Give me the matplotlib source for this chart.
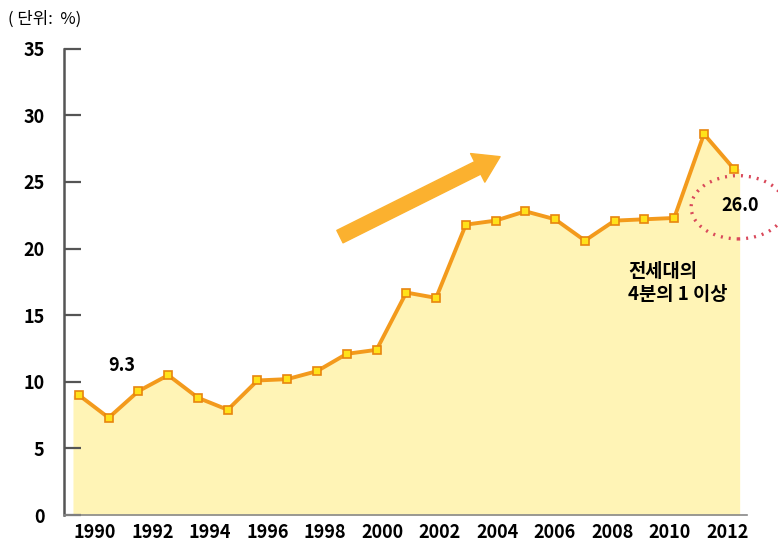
import matplotlib
matplotlib.use("Agg")
import matplotlib.pyplot as plt
from matplotlib.patches import Ellipse

plt.rcParams['font.family'] = ['Noto Sans CJK KR', 'DejaVu Sans']

years = list(range(1990, 2013))
values = [9.0, 7.3, 9.3, 10.5, 8.8, 7.9, 10.1, 10.2, 10.8, 12.1, 12.4, 16.7,
          16.3, 21.8, 22.1, 22.8, 22.2, 20.6, 22.1, 22.2, 22.3, 28.6, 26.0]
tick_labels = ['1990', '1992', '1994', '1996', '1998', '2000',
               '2002', '2004', '2006', '2008', '2010', '2012']
y_ticks = [0, 5, 10, 15, 20, 25, 30, 35]

line_col = '#F39A1C'
fill_col = '#FFF4B6'

fig = plt.figure(figsize=(7.78, 5.44), dpi=100)
ax = fig.add_axes([0.0823, 0.0533, 0.878, 0.857])

# area, a little wider than the first and last point
fx = [years[0] - 0.2] + years + [years[-1] + 0.2]
fy = [values[0]] + values + [values[-1]]
ax.fill_between(fx, fy, 0, color=fill_col, lw=0, zorder=1)
ax.plot(years, values, color=line_col, lw=2.8, marker='s', ms=6,
        mfc='#FFE21A', mec='#E8850F', mew=1.2, zorder=3)

ax.set_xlim(1989.5, 2012.45)
ax.set_ylim(0, 35)

# the printed year labels don't line up exactly with the points
tick_pos = [1990.54 + i * 1.931 for i in range(len(tick_labels))]
ax.set_xticks(tick_pos)
ax.set_xticklabels(tick_labels)
ax.set_yticks(y_ticks)
ax.tick_params(axis='x', length=0, pad=6, labelsize=13)
ax.tick_params(axis='y', direction='in', length=12.5, width=1.6, color='#555555',
               pad=14, labelsize=13)
for lab in ax.get_xticklabels() + ax.get_yticklabels():
    lab.set_fontweight('bold')

for s in ['top', 'right']:
    ax.spines[s].set_visible(False)
ax.spines['left'].set_color('#555555')
ax.spines['left'].set_linewidth(1.8)
ax.spines['bottom'].set_color('#888888')
ax.spines['bottom'].set_linewidth(1.2)

fig.text(0.01, 0.965, '( 단위:  %)', fontsize=12, ha='left', va='center')

ax.text(1991.45, 11.2, '9.3', fontsize=13, fontweight='bold', ha='center', va='center')
ax.text(2012.2, 23.2, '26.0', fontsize=13, fontweight='bold', ha='center', va='center')
ax.text(2008.45, 19.0, '전세대의\n4분의 1 이상', fontsize=13.5, fontweight='bold',
        ha='left', va='top', linespacing=1.25)

ell = Ellipse((2012.15, 23.1), 3.16, 4.75, fill=False, ec='#D9485A', lw=2.4,
              ls=(0, (0.6, 1.8)), clip_on=False, zorder=4)
ax.add_patch(ell)

ax.annotate('', xy=(2004.15, 26.9), xytext=(1998.77, 20.9),
            arrowprops=dict(arrowstyle='simple,head_length=0.9,head_width=1.15,tail_width=0.5',
                            color='#FBB12F', mutation_scale=20, shrinkA=0, shrinkB=0))

fig.savefig('out.png', dpi=100)
